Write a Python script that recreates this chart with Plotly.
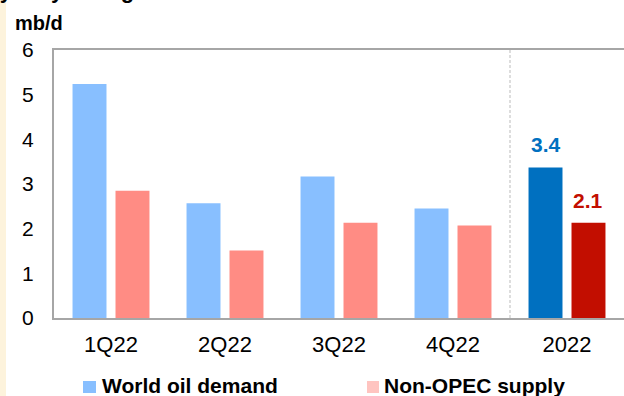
import plotly.graph_objects as go

categories = ["1Q22", "2Q22", "3Q22", "4Q22", "2022"]
demand = [5.24, 2.57, 3.17, 2.45, 3.37]
supply = [2.85, 1.51, 2.13, 2.07, 2.13]
label_index = 4
demand_label = "3.4"
supply_label = "2.1"
y_ticks = [0, 1, 2, 3, 4, 5, 6]

light_blue = "#88BFFF"
dark_blue = "#0070C0"
light_red = "#FF8C84"
dark_red = "#C20E00"

FONT = "Arial, 'Liberation Sans', sans-serif"

demand_colors = [light_blue] * 4 + [dark_blue]
supply_colors = [light_red] * 4 + [dark_red]

BARGAP = 0.246
BARGROUPGAP = 0.21

fig = go.Figure()
fig.add_trace(go.Bar(
    x=categories, y=demand, name="World oil demand",
    marker=dict(color=demand_colors, line=dict(width=0)),
    showlegend=False,
))
fig.add_trace(go.Bar(
    x=categories, y=supply, name="Non-OPEC supply",
    marker=dict(color=supply_colors, line=dict(width=0)),
    showlegend=False,
))

L, T, B = 54, 50, 78
W, H = 624, 396
pw, ph = W - L, H - T - B

def px_x(p):
    return (p - L) / pw

def px_y(p):
    return (H - B - p) / ph

slot_px = (1 - BARGAP) * (pw / len(categories)) / 2
half_slot = slot_px / 2

shapes = [
    dict(type="rect", xref="paper", yref="paper", x0=px_x(0), x1=px_x(6),
         y0=px_y(H + 2), y1=px_y(-2), fillcolor="#FDF3DC", line=dict(width=0), layer="below"),
    dict(type="line", xref="x", yref="paper", x0=label_index - 0.5, x1=label_index - 0.5, y0=0, y1=1,
         line=dict(color="#BBBBBB", width=1, dash="3px,2px")),
    dict(type="rect", xref="paper", yref="paper", x0=px_x(83), x1=px_x(96),
         y0=px_y(393), y1=px_y(381), fillcolor=light_blue, line=dict(width=0)),
    dict(type="rect", xref="paper", yref="paper", x0=px_x(367), x1=px_x(379),
         y0=px_y(393), y1=px_y(381), fillcolor="#FFC4C0", line=dict(width=0)),
]

annotations = [
    dict(text="<b>Demand and supply growth, y on y change</b>", xref="paper", yref="paper",
         x=px_x(147), y=px_y(4), xanchor="right", yanchor="bottom", showarrow=False,
         font=dict(family=FONT, size=22, color="#000000"), borderpad=0),
    dict(text="<b>mb/d</b>", xref="paper", yref="paper", x=px_x(13), y=px_y(23),
         xanchor="left", yanchor="middle", showarrow=False,
         font=dict(family=FONT, size=20, color="#000000")),
    dict(text="<b>World oil demand</b>", xref="paper", yref="paper", x=px_x(100), y=px_y(385),
         xanchor="left", yanchor="middle", showarrow=False,
         font=dict(family=FONT, size=21, color="#000000")),
    dict(text="<b>Non-OPEC supply</b>", xref="paper", yref="paper", x=px_x(382), y=px_y(385),
         xanchor="left", yanchor="middle", showarrow=False,
         font=dict(family=FONT, size=21, color="#000000")),
    dict(text=f"<b>{demand_label}</b>", xref="x", yref="y",
         x=label_index, y=demand[label_index], xshift=-half_slot, yshift=9,
         xanchor="center", yanchor="bottom", showarrow=False,
         font=dict(family=FONT, size=21, color=dark_blue)),
    dict(text=f"<b>{supply_label}</b>", xref="x", yref="y",
         x=label_index, y=supply[label_index], xshift=half_slot, yshift=9,
         xanchor="center", yanchor="bottom", showarrow=False,
         font=dict(family=FONT, size=21, color=dark_red)),
]

fig.update_layout(
    width=W, height=H,
    margin=dict(l=L, r=0, t=T, b=B, pad=0),
    paper_bgcolor="white", plot_bgcolor="white",
    barmode="group", bargap=BARGAP, bargroupgap=BARGROUPGAP,
    shapes=shapes, annotations=annotations,
    font=dict(family=FONT, color="#000000"),
    xaxis=dict(
        type="category",
        showline=True, linecolor="#A6A6A6", linewidth=2, mirror=True,
        showgrid=False, ticks="", ticklabelstandoff=6,
        tickfont=dict(family=FONT, size=22, color="#000000"),
        range=[-0.5, 4.5],
    ),
    yaxis=dict(
        range=[0, 6], tickvals=y_ticks, showgrid=False, zeroline=False,
        showline=True, linecolor="#A6A6A6", linewidth=2,
        ticks="", ticklabelstandoff=14,
        tickfont=dict(family=FONT, size=21, color="#000000"),
    ),
)

fig.write_html("out.html")
